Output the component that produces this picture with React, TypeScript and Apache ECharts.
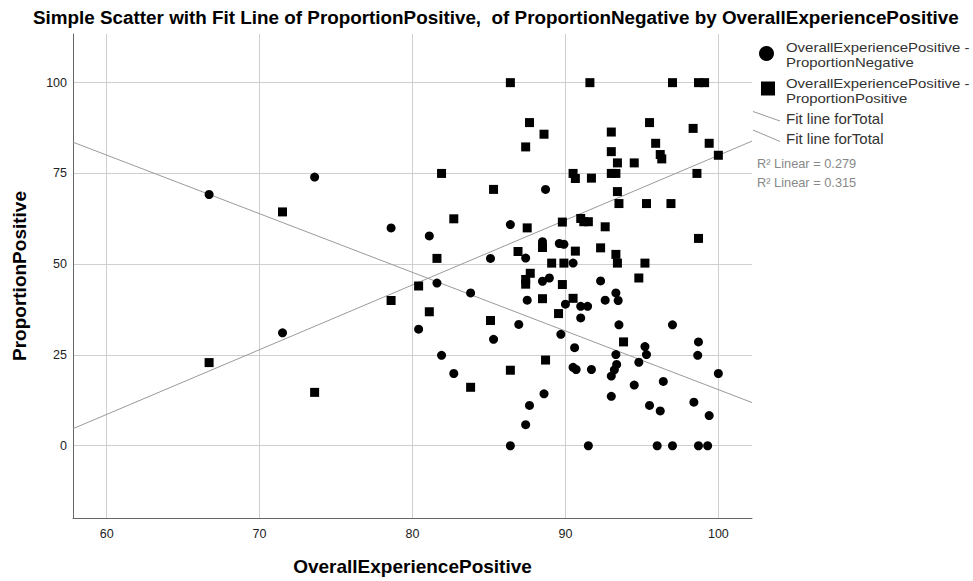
import React, { useEffect, useRef } from "react";
import * as echarts from "echarts";

const titleText =
  "Simple Scatter with Fit Line of ProportionPositive,  of ProportionNegative by OverallExperiencePositive";
const xName = "OverallExperiencePositive";
const yName = "ProportionPositive";

const xTicks = [60, 70, 80, 90, 100];
const yTicks = [0, 25, 50, 75, 100];

// OverallExperiencePositive - ProportionNegative (circles)
const negativePoints: [number, number][] = [
  [66.7, 69.2], [73.6, 74.0], [71.5, 31.1], [78.6, 60.0], [80.4, 32.1],
  [81.1, 57.8], [81.6, 44.8], [81.9, 24.9], [82.7, 19.9], [83.8, 42.1],
  [85.1, 51.6], [85.3, 29.3], [86.4, 60.9], [86.4, 0], [86.95, 33.4],
  [87.4, 51.7], [87.4, 5.8], [87.5, 40.1], [87.65, 11.1], [88.5, 56.2],
  [88.5, 45.3], [88.6, 14.3], [88.7, 70.6], [88.95, 46.2], [89.6, 55.7],
  [89.9, 55.5], [89.7, 30.7], [90.0, 39.0], [90.5, 50.3], [90.6, 27.0],
  [90.5, 21.6], [90.7, 21.0], [91.0, 38.4], [91.45, 38.4], [91.0, 35.2],
  [91.5, 0], [91.7, 21.0], [92.3, 45.4], [92.6, 40.1], [93.3, 42.1],
  [93.45, 40.0], [93.5, 33.3], [93.3, 25.1], [93.35, 22.4], [93.2, 20.9],
  [93.0, 19.2], [93.0, 13.6], [94.5, 16.7], [94.8, 23.0], [95.2, 27.3],
  [95.3, 25.1], [95.5, 11.1], [96.0, 0], [96.2, 9.6], [96.4, 17.7],
  [97.0, 33.3], [97.0, 0], [98.4, 12.0], [98.7, 28.6], [98.65, 24.9],
  [98.7, 0], [99.3, 0], [99.4, 8.3], [100.0, 19.9],
];

// OverallExperiencePositive - ProportionPositive (squares)
const positivePoints: [number, number][] = [
  [66.7, 22.9], [71.5, 64.4], [73.6, 14.7], [78.6, 40.0], [80.4, 44.0],
  [81.1, 36.9], [81.6, 51.6], [81.9, 75.0], [82.7, 62.5], [83.8, 16.1],
  [85.1, 34.5], [85.3, 70.6], [86.4, 100], [86.4, 20.8], [86.9, 53.5],
  [87.4, 82.3], [87.5, 60.0], [87.65, 89.0], [87.7, 47.5], [87.4, 45.8],
  [87.4, 44.5], [88.5, 54.6], [88.5, 40.5], [88.6, 85.8], [88.7, 23.6],
  [89.1, 50.3], [89.55, 36.4], [89.8, 44.4], [89.8, 61.6], [89.9, 50.3],
  [90.5, 75.0], [90.65, 73.6], [90.65, 53.6], [90.5, 40.6], [91.0, 62.6],
  [91.2, 61.7], [91.5, 61.7], [91.6, 100], [91.7, 73.7], [92.3, 54.5],
  [92.6, 60.3], [93.0, 86.4], [93.0, 81.0], [93.0, 75.0], [93.3, 75.0],
  [93.4, 77.9], [93.4, 70.0], [93.5, 66.7], [93.3, 52.7], [93.4, 50.3],
  [93.8, 28.6], [94.5, 77.9], [94.8, 46.2], [95.2, 50.3], [95.3, 66.7],
  [95.5, 89.0], [95.9, 83.3], [96.2, 80.2], [96.3, 79.0], [96.9, 66.7],
  [97.0, 100], [98.35, 87.4], [98.6, 75.0], [98.7, 57.1], [98.7, 100],
  [99.1, 100], [99.4, 83.3], [100.0, 80.0],
];

// Fit lines (end points)
const fitNegative: [number, number][] = [[57.8, 83.6], [102.2, 11.9]];
const fitPositive: [number, number][] = [[57.8, 4.7], [102.2, 83.9]];

const legendSeriesLines = [
  ["OverallExperiencePositive -", "ProportionNegative"],
  ["OverallExperiencePositive -", "ProportionPositive"],
];
const legendFit = ["Fit line forTotal", "Fit line forTotal"];
const r2Labels = ["R² Linear = 0.279", "R² Linear = 0.315"];

const FONT = "'Liberation Sans', Arial, sans-serif";

export default function App() {
  const ref = useRef<HTMLDivElement>(null);

  useEffect(() => {
    if (!ref.current) return;
    const chart = echarts.init(ref.current, undefined, { renderer: "svg" });

    const legendLineText = (text: string, y: number) => ({
      type: "text",
      x: 786,
      y,
      scaleX: 1.15,
      style: {
        text,
        fill: "#333",
        font: `13px ${FONT}`,
        verticalAlign: "middle",
        align: "left",
      },
    });

    const option: any = {
      animation: false,
      backgroundColor: "#ffffff",
      textStyle: { fontFamily: FONT },
      title: {
        text: titleText,
        left: 28,
        top: 3,
        textStyle: { fontFamily: FONT, fontSize: 18.85, fontWeight: "bold", color: "#000" },
      },
      grid: { left: 73, right: 221, top: 34, bottom: 59, containLabel: false },
      xAxis: {
        type: "value",
        min: 57.8,
        max: 102.2,
        name: xName,
        nameLocation: "middle",
        nameGap: 39,
        nameTextStyle: { fontFamily: FONT, fontSize: 19, fontWeight: "bold", color: "#000" },
        axisLine: { show: true, onZero: false, lineStyle: { color: "#666", width: 1 } },
        axisTick: { show: false, customValues: xTicks },
        axisLabel: { customValues: xTicks, color: "#222", fontSize: 12.5, margin: 9, fontFamily: FONT },
        splitLine: { show: true, lineStyle: { color: "#cfcfcf", width: 1 } },
      },
      yAxis: {
        type: "value",
        min: -19.9,
        max: 113.4,
        name: yName,
        nameLocation: "middle",
        nameGap: 44,
        nameTextStyle: { fontFamily: FONT, fontSize: 19, fontWeight: "bold", color: "#000" },
        axisLine: { show: true, onZero: false, lineStyle: { color: "#666", width: 1 } },
        axisTick: { show: false, customValues: yTicks },
        axisLabel: { customValues: yTicks, color: "#222", fontSize: 12.5, margin: 6, fontFamily: FONT },
        splitLine: { show: true, lineStyle: { color: "#cfcfcf", width: 1 } },
      },
      series: [
        {
          type: "line",
          data: fitNegative,
          showSymbol: false,
          symbol: "none",
          lineStyle: { color: "#9a9a9a", width: 1 },
          z: 2,
          silent: true,
        },
        {
          type: "line",
          data: fitPositive,
          showSymbol: false,
          symbol: "none",
          lineStyle: { color: "#9a9a9a", width: 1 },
          z: 2,
          silent: true,
        },
        {
          type: "scatter",
          data: negativePoints,
          symbol: "circle",
          symbolSize: 9,
          itemStyle: { color: "#000", opacity: 1 },
          z: 3,
        },
        {
          type: "scatter",
          data: positivePoints,
          symbol: "rect",
          symbolSize: 9,
          itemStyle: { color: "#000", opacity: 1 },
          z: 3,
        },
      ],
      graphic: [
        { type: "circle", shape: { cx: 766.5, cy: 53.5, r: 7.5 }, style: { fill: "#000" } },
        legendLineText(legendSeriesLines[0][0], 47.5),
        legendLineText(legendSeriesLines[0][1], 62.5),
        { type: "rect", shape: { x: 761, y: 81.5, width: 14, height: 14 }, style: { fill: "#000" } },
        legendLineText(legendSeriesLines[1][0], 83),
        legendLineText(legendSeriesLines[1][1], 98),
        { type: "line", shape: { x1: 753, y1: 111.5, x2: 780, y2: 121 }, style: { stroke: "#9a9a9a", lineWidth: 1 } },
        {
          type: "text",
          x: 786,
          y: 118,
          style: { text: legendFit[0], fill: "#333", font: `15px ${FONT}`, verticalAlign: "middle" },
        },
        { type: "line", shape: { x1: 753, y1: 130, x2: 780, y2: 141.5 }, style: { stroke: "#9a9a9a", lineWidth: 1 } },
        {
          type: "text",
          x: 786,
          y: 138,
          style: { text: legendFit[1], fill: "#333", font: `15px ${FONT}`, verticalAlign: "middle" },
        },
        {
          type: "text",
          x: 757,
          y: 163,
          style: { text: r2Labels[0], fill: "#888", font: `12.8px ${FONT}`, verticalAlign: "middle" },
        },
        {
          type: "text",
          x: 757,
          y: 182,
          style: { text: r2Labels[1], fill: "#888", font: `12.8px ${FONT}`, verticalAlign: "middle" },
        },
      ],
    };
    chart.setOption(option);
    return () => chart.dispose();
  }, []);

  return (
    <div
      ref={ref}
      style={{ position: "absolute", left: 0, top: 0, width: 973, height: 581 }}
    />
  );
}
